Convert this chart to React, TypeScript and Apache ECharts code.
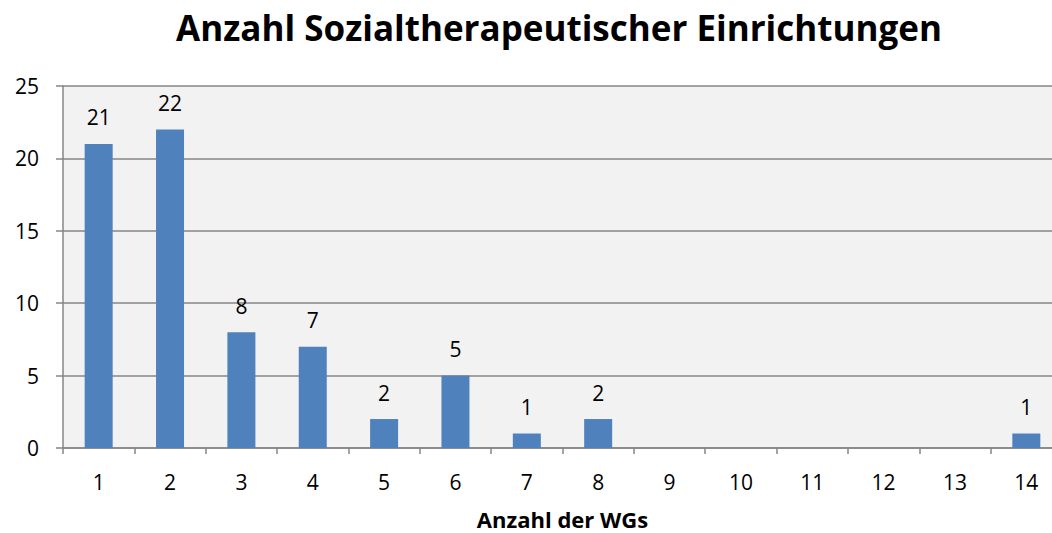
import React, { useEffect, useRef } from "react";
import * as echarts from "echarts";

const categories = ["1","2","3","4","5","6","7","8","9","10","11","12","13","14"];
const values = [21, 22, 8, 7, 2, 5, 1, 2, 0, 0, 0, 0, 0, 1];
const titleText = "Anzahl Sozialtherapeutischer Einrichtungen";
const xName = "Anzahl der WGs";

export default function App() {
  const ref = useRef<HTMLDivElement>(null);
  useEffect(() => {
    document.body.style.margin = "0";
    const chart = echarts.init(ref.current!, null, { renderer: "svg" });
    const font = "'Open Sans', 'Noto Sans', sans-serif";
    chart.setOption({
      animation: false,
      backgroundColor: "#ffffff",
      textStyle: { fontFamily: font },
      title: {
        text: titleText,
        left: 554,
        textAlign: "center",
        top: 5,
        textStyle: { fontSize: 35, fontWeight: "bold", color: "#000", fontFamily: font },
      },
      grid: {
        left: 63,
        right: 0,
        top: 86,
        bottom: 85,
        outerBoundsMode: "none",
        containLabel: false,
        show: true,
        backgroundColor: "#f2f2f2",
        borderWidth: 0,
      },
      xAxis: {
        type: "category",
        data: categories,
        name: xName,
        nameLocation: "middle",
        nameGap: 60,
        nameTextStyle: { fontSize: 22, fontWeight: "bold", color: "#000", fontFamily: font },
        axisLine: { lineStyle: { color: "#868686", width: 1.5 } },
        axisTick: { show: true, alignWithLabel: false, length: 6, lineStyle: { color: "#868686", width: 1.5 } },
        axisLabel: { fontSize: 21, color: "#000", margin: 23, fontFamily: font },
      },
      yAxis: {
        type: "value",
        min: 0,
        max: 25,
        interval: 5,
        axisLine: { show: true, lineStyle: { color: "#868686", width: 1.5 } },
        axisTick: { show: true, length: 7, lineStyle: { color: "#868686", width: 1.5 } },
        axisLabel: { fontSize: 21, color: "#000", margin: 24, fontFamily: font },
        splitLine: { show: true, lineStyle: { color: "#868686", width: 1.5 } },
      },
      series: [
        {
          type: "bar",
          data: values.map((v) => (v === 0 ? null : v)),
          barWidth: 28,
          itemStyle: { color: "#4f81bd" },
          label: {
            show: true,
            position: "top",
            distance: 16,
            fontSize: 21,
            color: "#000",
            fontFamily: font,
          },
        },
      ],
    });
    return () => chart.dispose();
  }, []);
  return (
    <div style={{ width: 1052, height: 533, overflow: "hidden" }}>
      <div ref={ref} style={{ width: 1062, height: 533 }} />
    </div>
  );
}
